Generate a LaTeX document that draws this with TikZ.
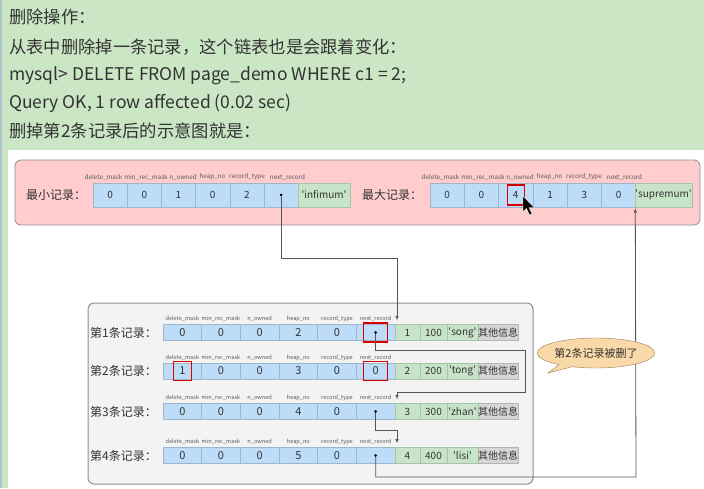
\documentclass[tikz,border=0pt]{standalone}
\usepackage{fontspec}
\setmainfont{Noto Sans CJK SC}
\usetikzlibrary{arrows.meta, positioning, shapes.callouts}
\newcommand{\q}[1]{\textquotesingle#1\textquotesingle}
\definecolor{cgreen}{HTML}{CAE6C4}
\definecolor{cstrip}{HTML}{AFC3CC}
\definecolor{cpink}{HTML}{FFCDCD}
\definecolor{cpanel}{HTML}{F3F3F3}
\definecolor{cedge}{HTML}{8F8F8F}
\definecolor{cblue}{HTML}{BCDCF8}
\definecolor{cblueedge}{HTML}{9DB6CC}
\definecolor{cdata}{HTML}{C8E4C8}
\definecolor{cdataedge}{HTML}{A6C4A6}
\definecolor{cgrey}{HTML}{D6D6D6}
\definecolor{cgreyedge}{HTML}{B4B4B4}
\definecolor{cink}{HTML}{333333}
\definecolor{cfield}{HTML}{5A5A5A}
\definecolor{cline}{HTML}{555555}
\definecolor{cbubble}{HTML}{FAD9A8}
\definecolor{cbubbleedge}{HTML}{9C7F5A}

\begin{document}
\begin{tikzpicture}[x=1pt, y=-1pt,
  every node/.style={text=cink},
  txt/.style={anchor=west, inner sep=0pt},
  head/.style={txt, font=\fontsize{17.3}{19}\selectfont},
  code/.style={txt, font=\fontsize{17.5}{19}\selectfont},
  lab/.style={txt, font=\fontsize{12}{14}\selectfont},
  cell/.style={draw=cblueedge, fill=cblue, minimum width=34.2pt, minimum height=24pt,
               inner sep=0pt, outer sep=0pt, font=\fontsize{10}{12}\selectfont},
  rcell/.style={cell, minimum width=38.67pt, minimum height=16pt, font=\fontsize{11}{12}\selectfont},
  dcell/.style={cell, draw=cdataedge, fill=cdata},
  rdcell/.style={rcell, draw=cdataedge, fill=cdata, font=\fontsize{10}{12}\selectfont},
  gcell/.style={rdcell, draw=cgreyedge, fill=cgrey, minimum width=40pt},
  field/.style={inner sep=0pt, text=cfield, font=\fontsize{6.3}{7}\selectfont},
  rfield/.style={field, font=\fontsize{5.6}{6}\selectfont},
  hlbox/.style={draw=red!85!black, line width=1.3pt, inner sep=0pt,
                minimum width=24pt, minimum height=19pt},
  dot/.style={circle, fill=black, inner sep=0pt, minimum size=3pt},
  link/.style={draw=cline, line width=0.8pt, -{Latex[length=4.5pt, width=3.5pt]}},
  bubble/.style={ellipse callout, draw=cbubbleedge, fill=cbubble, minimum width=96pt,
                 minimum height=30pt, inner sep=0pt, font=\fontsize{11}{12}\selectfont}
]
\useasboundingbox (0,0) rectangle (704,488);
% page
\fill[cgreen] (0,0) rectangle (704,488);
\fill[white] (8,150) rectangle (704,488);
\draw[cstrip, line width=1.5pt] (1,0) -- (1,488);

% text above the picture
\node[head] (t1) at (9,17) {删除操作：};
\node[head] (t2) at (9,47) {从表中删除掉一条记录，这个链表也是会跟着变化：};
\node[code] (t3) at (9,76) {mysql> DELETE FROM page\_demo WHERE c1 = 2;};
\node[code] (t4) at (9,103) {Query OK, 1 row affected (0.02 sec)};
\node[head] (t5) at (9,131) {删掉第2条记录后的示意图就是：};

% infimum / supremum
\draw[cedge, fill=cpink, rounded corners=6pt, line width=0.8pt] (15,160) rectangle (700,225);
\node[lab] (minlab) at (26,195) {最小记录：};
\foreach \v [count=\i] in {0,0,1,0,2,{}}
  \node[cell] (min\i) at ({93+34.2*(\i-.5)},195) {\v};
\node[dcell, minimum width=52pt] (inf) at (324,195) {\q{infimum}};
\node[lab] (maxlab) at (362,195) {最大记录：};
\foreach \v [count=\i] in {0,0,4,1,3,0}
  \node[cell] (max\i) at ({430+34.3*(\i-.5)},195) {\v};
\node[dcell, minimum width=55pt] (sup) at (663.5,195) {\q{supremum}};
\foreach \t/\x [count=\i] in {delete\_mask/103.5, min\_rec\_mask/146, n\_owned/183,
    heap\_no/212.5, record\_type/247, next\_record/287.5} {
  \node[field] (fmin\i) at (\x,177) {\t};
  \node[field] (fmax\i) at (\x+337,177) {\t};
}

% user records
\draw[cedge, fill=cpanel, rounded corners=6pt, line width=1pt] (88,303) rectangle (533,484);
\foreach \r/\y/\dm/\hn/\nr/\ka/\kb/\kc in {1/332.5/0/2//1/100/song, 2/371/1/3/0/2/200/tong,
    3/411.5/0/4//3/300/zhan, 4/455.5/0/5//4/400/lisi} {
  \node[lab] (lab\r) at (90,\y) {第\r 条记录：};
  \foreach \v [count=\i] in {\dm,0,0,\hn,0,\nr}
    \node[rcell] (c\r\i) at ({163+38.67*(\i-.5)},\y) {\v};
  \foreach \t [count=\i] in {delete\_mask,min\_rec\_mask,n\_owned,heap\_no,record\_type,next\_record}
    \node[rfield] (f\r\i) at ({163+38.67*(\i-.5)},\y-13.5) {\t};
  \node[rdcell, minimum width=25pt] (d\r1) at (407.5,\y) {\ka};
  \node[rdcell, minimum width=27pt] (d\r2) at (433.5,\y) {\kb};
  \node[rdcell, minimum width=31pt] (d\r3) at (462.5,\y) {\q{\kc}};
  \node[gcell] (d\r4) at (498,\y) {其他信息};
}

% highlights
\node[hlbox, minimum width=17pt, minimum height=20pt] (h0) at (max3) {};
\node[hlbox] (h1) at (c16) {};
\node[hlbox, minimum width=18pt] (h2) at (c21) {};
\node[hlbox] (h3) at (c26) {};

% pointers
\node[dot] (p0) at (min6) {};
\node[dot] (p1) at (c16) {};
\node[dot] (p3) at (c36) {};
\node[dot] (p4) at (c46) {};
\draw[link] (p0) -- ++(0,63) -| ([xshift=2pt, yshift=4pt]d11.north west);
\draw[link] (p1) |- (525,350) -- (525,392) -| ([xshift=2pt, yshift=4pt]d31.north west);
\draw[link] (p3) |- (397,430) -- ([xshift=2pt, yshift=4pt]d41.north west);
\draw[link] (p4) |- (636,477) -- ([yshift=-1pt]sup.south west);

% note
\node[bubble, callout absolute pointer={(548,373)}] (note) at (596,353) {第2条记录被删了};

% mouse pointer
\fill[black, draw=white, line width=0.4pt] (523,196) -- ++(0,16) -- ++(3.5,-3.5) -- ++(3,6.5)
  -- ++(2.5,-1.2) -- ++(-3,-6.3) -- ++(5,0) -- cycle;
\end{tikzpicture}
\end{document}
